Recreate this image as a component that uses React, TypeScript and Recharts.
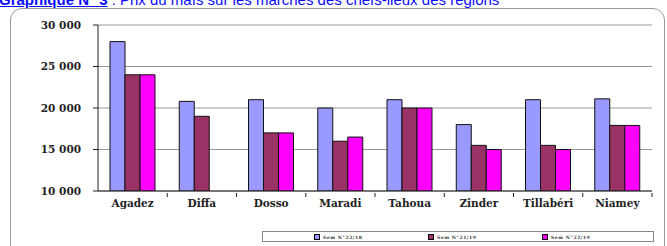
import React from "react";
import { BarChart, Bar, XAxis, YAxis, CartesianGrid, Legend } from "recharts";

const categories = ["Agadez", "Diffa", "Dosso", "Maradi", "Tahoua", "Zinder", "Tillabéri", "Niamey"];
const sem2218 = [28000, 20800, 21000, 20000, 21000, 18000, 21000, 21100];
const sem2119 = [24000, 19000, 17000, 16000, 20000, 15500, 15500, 17900];
const sem2219 = [24000, 10000, 17000, 16500, 20000, 15000, 15000, 17900];
const yTicks = [10000, 15000, 20000, 25000, 30000];
const seriesNames = ["Sem N°22/18", "Sem N°21/19", "Sem N°22/19"];
const seriesColors = ["#9999ff", "#993366", "#ff00ff"];

const data = categories.map((c, i) => ({
  name: c,
  a: sem2218[i],
  b: sem2119[i],
  c: sem2219[i],
}));

const fmt = (v: number) => v.toLocaleString("en-US").replace(/,/g, " ");

const SERIF = "'DejaVu Serif', serif";

const XTick = (props: any) => {
  const { x, y, payload } = props;
  const off = payload && payload.offset ? payload.offset : 34.6;
  return (
    <g>
      <line x1={x + off} x2={x + off} y1={y - 6} y2={y - 2} stroke="#222" strokeWidth={1} />
      <text
        x={x}
        y={y + 8}
        textAnchor="middle"
        fontFamily={SERIF}
        fontWeight="bold"
        fontSize={10.5}
        fill="#222"
      >
        {payload.value}
      </text>
    </g>
  );
};

const LegendContent = () => {
  return (
    <div
      style={{
        width: 392,
        height: 11,
        border: "1px solid #888",
        position: "relative",
        boxSizing: "border-box",
        background: "#fff",
      }}
    >
      {seriesNames.map((n, i) => (
        <div
          key={i}
          style={{
            position: "absolute",
            left: 51 + i * 114,
            top: 2,
            display: "flex",
            alignItems: "center",
            fontFamily: SERIF,
            fontWeight: "bold",
            fontSize: 4.5,
            color: "#333",
            whiteSpace: "nowrap",
          }}
        >
          <span
            style={{
              display: "inline-block",
              width: 4,
              height: 4,
              background: seriesColors[i],
              border: "0.5px solid #000",
              marginRight: 3,
            }}
          />
          <span style={{ letterSpacing: 0.6 }}>{n}</span>
        </div>
      ))}
    </div>
  );
};

export default function App() {
  return (
    <div style={{ position: "absolute", left: 0, top: 0, width: 667, height: 246, overflow: "hidden", background: "#fff" }}>
      <div
        style={{
          position: "absolute",
          left: -1,
          top: -8,
          fontFamily: "'Liberation Sans', Arial, sans-serif",
          fontSize: 15,
          lineHeight: "15px",
          color: "#0a0aff",
          whiteSpace: "nowrap",
        }}
      >
        <span style={{ fontWeight: "bold", textDecoration: "underline" }}>Graphique N° 3</span>
        <span> : Prix du maïs sur les marchés des chefs-lieux des régions</span>
      </div>
      <div
        style={{
          position: "absolute",
          left: 10,
          top: 8,
          width: 653,
          height: 260,
          border: "1px solid #999",
          borderRadius: 12,
        }}
      />
      <div style={{ position: "absolute", left: 0, top: 0 }}>
        <BarChart
          width={667}
          height={246}
          data={data}
          margin={{ top: 25, right: 15, left: 0, bottom: 24 }}
          barGap={0}
          barSize={15}
        >
          <CartesianGrid vertical={false} stroke="#999" strokeWidth={1} />
          <XAxis
            dataKey="name"
            tick={<XTick />}
            tickLine={false}
            axisLine={{ stroke: "#222" }}
            height={20}
            interval={0}
          />
          <YAxis
            domain={[10000, 30000]}
            ticks={yTicks}
            width={98}
            tickFormatter={fmt}
            tickSize={5}
            tickMargin={12}
            axisLine={{ stroke: "#222" }}
            tickLine={{ stroke: "#222" }}
            tick={{ fontFamily: SERIF, fontWeight: "bold", fontSize: 10.5, fill: "#222" }}
            allowDataOverflow
          />
          <Legend
            content={<LegendContent />}
            wrapperStyle={{ position: "absolute", left: 262, top: 231, width: 392, height: 11 }}
          />
          <Bar dataKey="a" name={seriesNames[0]} fill={seriesColors[0]} stroke="#111" strokeWidth={1} isAnimationActive={false} />
          <Bar dataKey="b" name={seriesNames[1]} fill={seriesColors[1]} stroke="#111" strokeWidth={1} isAnimationActive={false} />
          <Bar dataKey="c" name={seriesNames[2]} fill={seriesColors[2]} stroke="#111" strokeWidth={1} isAnimationActive={false} />
        </BarChart>
      </div>
    </div>
  );
}
